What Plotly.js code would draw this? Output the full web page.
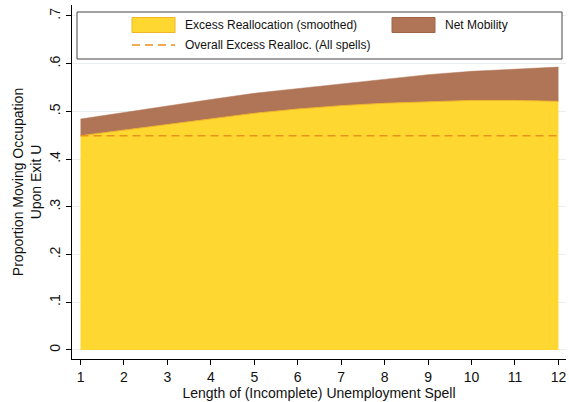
<!DOCTYPE html>
<html>
<head>
<meta charset="utf-8">
<script src="https://cdn.plot.ly/plotly-3.0.1.min.js"></script>
<style>html,body{margin:0;padding:0;background:#fff;}#chart{width:569px;height:402px;}</style>
</head>
<body>
<div id="chart"></div>
<script>
// Data
const spell = [1, 2, 3, 4, 5, 6, 7, 8, 9, 10, 11, 12];
const excessRealloc = [0.449, 0.461, 0.473, 0.485, 0.496, 0.505, 0.512, 0.517, 0.520, 0.523, 0.523, 0.521];
const totalMobility = [0.484, 0.498, 0.511, 0.525, 0.538, 0.548, 0.558, 0.568, 0.577, 0.584, 0.589, 0.593];
const overallExcess = 0.449;
const yTickVals = [0, 0.1, 0.2, 0.3, 0.4, 0.5, 0.6, 0.7];
const yTickText = ['0', '.1', '.2', '.3', '.4', '.5', '.6', '.7'];
const xTickVals = [1, 2, 3, 4, 5, 6, 7, 8, 9, 10, 11, 12];
const legendLabels = ['Excess Reallocation (smoothed)', 'Net Mobility', 'Overall Excess Realloc. (All spells)'];

const YELLOW = 'rgb(254,216,49)';
const YELLOW_EDGE = 'rgb(240,180,40)';
const BROWN = 'rgb(176,116,86)';
const ORANGE = 'rgb(234,145,30)';

const traces = [
  {x: spell, y: excessRealloc, type: 'scatter', mode: 'lines', fill: 'tozeroy',
   fillcolor: YELLOW, line: {color: YELLOW_EDGE, width: 1}, name: legendLabels[0], hoverinfo: 'skip'},
  {x: spell, y: totalMobility, type: 'scatter', mode: 'lines', fill: 'tonexty',
   fillcolor: BROWN, line: {color: BROWN, width: 0.5}, name: legendLabels[1], hoverinfo: 'skip'},
  {x: spell, y: spell.map(() => overallExcess), type: 'scatter', mode: 'lines',
   line: {color: ORANGE, width: 1.5, dash: '8px,5px'}, name: legendLabels[2], hoverinfo: 'skip'}
];

// pixel -> paper helpers for the hand-drawn legend box
const L = 72, T = 5, W = 494, H = 354;
const px = v => (v - L) / W;
const py = v => (T + H - v) / H;

const shapes = [
  {type: 'rect', xref: 'paper', yref: 'paper', x0: px(77), x1: px(562), y0: py(12), y1: py(59),
   fillcolor: '#ffffff', line: {color: '#444', width: 1}, layer: 'above'},
  {type: 'rect', xref: 'paper', yref: 'paper', x0: px(132), x1: px(175), y0: py(17.5), y1: py(32.5),
   fillcolor: YELLOW, line: {color: YELLOW_EDGE, width: 1}, layer: 'above'},
  {type: 'rect', xref: 'paper', yref: 'paper', x0: px(392), x1: px(435), y0: py(17.5), y1: py(32.5),
   fillcolor: BROWN, line: {color: 'rgb(160,100,72)', width: 1}, layer: 'above'},
  {type: 'line', xref: 'paper', yref: 'paper', x0: px(132), x1: px(175), y0: py(45), y1: py(45),
   line: {color: ORANGE, width: 1.5, dash: '8px,5px'}, layer: 'above'}
];

const annFont = {family: 'Liberation Sans, Arial, sans-serif', size: 12, color: '#111'};
const annotations = [
  {xref: 'paper', yref: 'paper', x: px(183), y: py(25), xanchor: 'left', yanchor: 'middle',
   text: legendLabels[0], showarrow: false, font: annFont},
  {xref: 'paper', yref: 'paper', x: px(443), y: py(25), xanchor: 'left', yanchor: 'middle',
   text: legendLabels[1], showarrow: false, font: annFont},
  {xref: 'paper', yref: 'paper', x: px(183), y: py(45), xanchor: 'left', yanchor: 'middle',
   text: legendLabels[2], showarrow: false, font: annFont}
];

const layout = {
  width: 569, height: 402,
  margin: {l: L, r: 569 - L - W, t: T, b: 402 - T - H, pad: 0},
  paper_bgcolor: '#fff', plot_bgcolor: '#fff',
  showlegend: false,
  font: {family: 'Liberation Sans, Arial, sans-serif', size: 14, color: '#111'},
  xaxis: {
    range: [0.804, 12.174], tickmode: 'array', tickvals: xTickVals,
    showgrid: false, zeroline: false, showline: true, linecolor: '#000', linewidth: 1,
    ticks: 'outside', ticklen: 5, tickcolor: '#000', tickwidth: 1,
    tickfont: {size: 14},
    title: {text: 'Length of (Incomplete) Unemployment Spell', font: {size: 14}, standoff: 4}
  },
  yaxis: {
    range: [-0.019, 0.723], tickmode: 'array', tickvals: yTickVals, ticktext: yTickText,
    tickangle: -90,
    showgrid: true, gridcolor: 'rgb(232,239,242)', gridwidth: 1, zeroline: false,
    showline: true, linecolor: '#000', linewidth: 1,
    ticks: 'outside', ticklen: 5, tickcolor: '#000', tickwidth: 1,
    tickfont: {size: 14},
    title: {text: 'Proportion Moving Occupation<br>Upon Exit U', font: {size: 14}, standoff: 2}
  },
  shapes: shapes,
  annotations: annotations
};

Plotly.newPlot('chart', traces, layout, {displayModeBar: false, staticPlot: true});
</script>
</body>
</html>
